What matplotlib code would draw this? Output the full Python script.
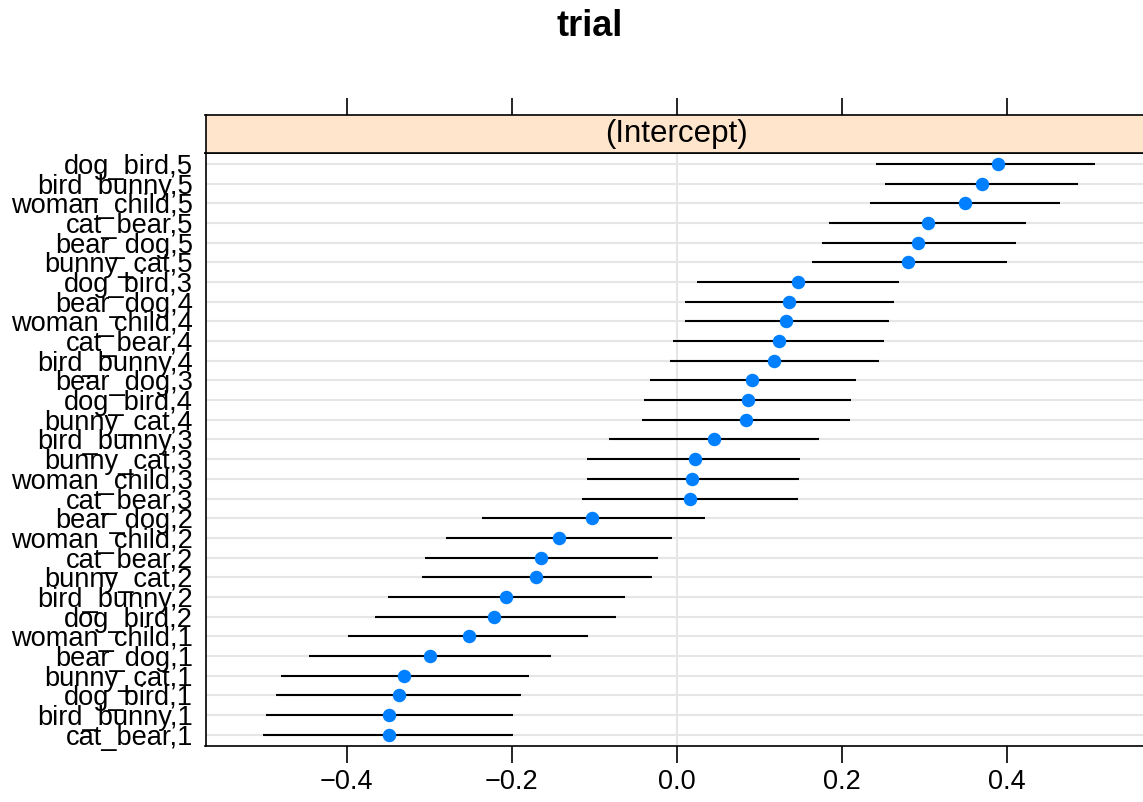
import matplotlib.pyplot as plt

plt.rcParams['font.family'] = ['Liberation Sans', 'DejaVu Sans']

# rows listed top to bottom
labels = ['dog_bird,5', 'bird_bunny,5', 'woman_child,5', 'cat_bear,5', 'bear_dog,5',
          'bunny_cat,5', 'dog_bird,3', 'bear_dog,4', 'woman_child,4', 'cat_bear,4',
          'bird_bunny,4', 'bear_dog,3', 'dog_bird,4', 'bunny_cat,4', 'bird_bunny,3',
          'bunny_cat,3', 'woman_child,3', 'cat_bear,3', 'bear_dog,2', 'woman_child,2',
          'cat_bear,2', 'bunny_cat,2', 'bird_bunny,2', 'dog_bird,2', 'woman_child,1',
          'bear_dog,1', 'bunny_cat,1', 'dog_bird,1', 'bird_bunny,1', 'cat_bear,1']
est = [0.390, 0.370, 0.350, 0.305, 0.293, 0.281, 0.147, 0.136, 0.133, 0.124,
       0.118, 0.092, 0.086, 0.084, 0.045, 0.022, 0.019, 0.016, -0.102, -0.142,
       -0.164, -0.170, -0.207, -0.221, -0.252, -0.299, -0.330, -0.337, -0.348, -0.349]
lower = [0.242, 0.253, 0.234, 0.185, 0.176, 0.164, 0.025, 0.010, 0.010, -0.004,
         -0.008, -0.032, -0.039, -0.042, -0.082, -0.108, -0.108, -0.115, -0.236, -0.279,
         -0.305, -0.308, -0.350, -0.366, -0.398, -0.446, -0.479, -0.486, -0.498, -0.501]
upper = [0.507, 0.486, 0.465, 0.424, 0.411, 0.400, 0.270, 0.263, 0.258, 0.252,
         0.245, 0.217, 0.212, 0.210, 0.173, 0.150, 0.148, 0.147, 0.034, -0.005,
         -0.022, -0.030, -0.063, -0.074, -0.107, -0.152, -0.179, -0.188, -0.198, -0.198]
xticks = [-0.4, -0.2, 0.0, 0.2, 0.4]

n = len(labels)
ypos = [n - i for i in range(n)]

W, H = 1143, 802
fig = plt.figure(figsize=(W / 100, H / 100), dpi=100)

x0, x1 = -0.571, 0.570
left_px = 205.5
right_px = left_px + (x1 - x0) * 825
ax = fig.add_axes([left_px / W, (H - 745.6) / H, (right_px - left_px) / W, (745.6 - 153) / H])
strip = fig.add_axes([left_px / W, (H - 153) / H, (right_px - left_px) / W, (153 - 115) / H])

ax.axvline(0, color='#e6e6e6', lw=1.5, zorder=0)
for y in ypos:
    ax.axhline(y, color='#e6e6e6', lw=1.5, zorder=0)
ax.hlines(ypos, lower, upper, color='black', lw=1.5, zorder=2)
ax.plot(est, ypos, 'o', color='#0080ff', ms=9.7, mec='none', zorder=3)

ax.set_xlim(x0, x1)
ax.set_ylim(0.45, n + 0.55)
ax.set_yticks(ypos)
ax.set_yticklabels(labels, fontsize=19.6)
ax.tick_params(axis='y', length=0, pad=9)
ax.set_xticks(xticks)
ax.set_xticklabels([f'{t:.1f}'.replace('-', '\u2212') for t in xticks], fontsize=19.5)
ax.tick_params(axis='x', length=12, width=1.2, pad=5)
for s in ax.spines.values():
    s.set_linewidth(1.2)

strip.set_facecolor('#ffe5cc')
strip.set_xlim(x0, x1)
strip.set_ylim(0, 1)
strip.set_xticks(xticks)
strip.set_xticklabels([])
strip.xaxis.tick_top()
strip.tick_params(axis='x', length=12, width=1.2)
strip.set_yticks([])
for s in strip.spines.values():
    s.set_linewidth(1.2)
strip.text(0.0, 0.5, '(Intercept)', ha='center', va='center', fontsize=22.5)

fig.text(590 / W, 1 - 26 / H, 'trial', ha='center', va='center', fontsize=26, fontweight='bold')

fig.savefig('out.png', dpi=100)
